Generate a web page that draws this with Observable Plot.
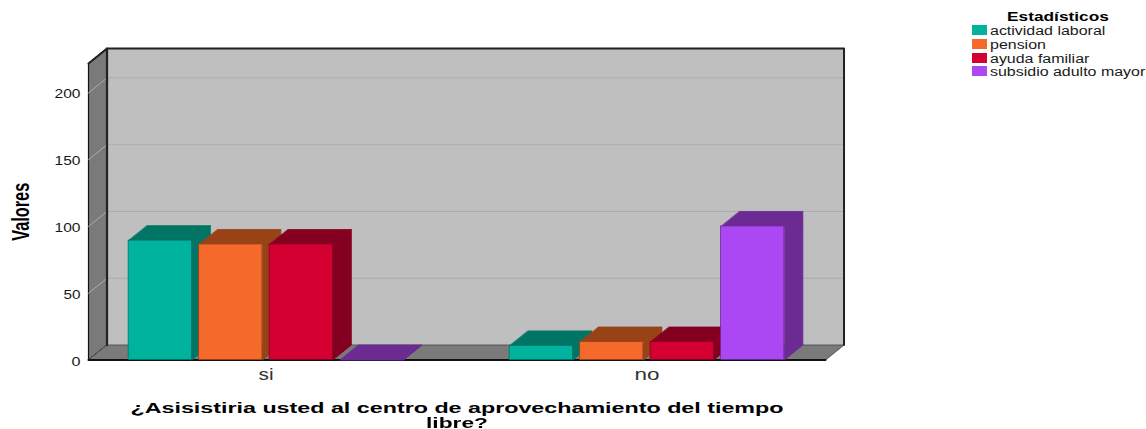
<!DOCTYPE html>
<html lang="es">
<head>
<meta charset="utf-8">
<script src="https://cdn.jsdelivr.net/npm/d3@7"></script>
<script src="https://cdn.jsdelivr.net/npm/@observablehq/plot@0.6"></script>
<style>
html,body{margin:0;padding:0;background:#fff;overflow:hidden}
#wrap{position:relative;width:1146px;height:429px;font-family:"Liberation Sans",sans-serif;filter:blur(.3px)}
#legend{position:absolute;left:972px;top:9px;width:174px;color:#1a1a1a}
#legend .t{position:absolute;left:35px;top:0;font-weight:bold;font-size:13px;color:#000;line-height:15px;white-space:nowrap;transform-origin:left center}
#legend .r{position:absolute;left:0;white-space:nowrap;font-size:12px;line-height:14px}
#legend .s{position:absolute;left:0;top:1px;width:15px;height:10px}
#legend .l{position:absolute;left:18px;top:0;transform-origin:left center}
</style>
</head>
<body>
<div id="wrap"><div id="chart"></div><div id="legend"></div></div>
<script>
const categories = ["si", "no"];
const seriesNames = ["actividad laboral", "pension", "ayuda familiar", "subsidio adulto mayor"];
const siValues = [89.4, 86.5, 86.5, 0];
const noValues = [10.6, 13.5, 13.5, 100];
const yTicks = [0, 50, 100, 150, 200];
const frontColors = ["#00b39e", "#f5692b", "#d50032", "#ab47f3"];
const sideColors = ["#007565", "#984216", "#850020", "#6c2a93"];
const yTitle = "Valores";
const xTitleLines = ["¿Asisistiria usted al centro de aprovechamiento del tiempo", "libre?"];
const legendTitle = "Estadísticos";

const groupValues = [siValues, noValues];
// layout, in scale units
const barStep = 0.185, barWidth = 0.166;
const depthX = 0.0486, depthY = 11.2;
const xMin = -0.4659, xMax = 1.4685, yMax = 222;

const poly = (pts, fill, stroke, strokeWidth) =>
  Plot.line(pts, {x: d => d[0], y: d => d[1], curve: "linear-closed", fill, stroke: stroke ?? fill, strokeWidth: strokeWidth ?? 1});
const seg = (pts, stroke, strokeWidth) =>
  Plot.line(pts, {x: d => d[0], y: d => d[1], stroke, strokeWidth});

const marks = [];
// Walls
marks.push(poly([[xMin,0],[xMin+depthX,depthY],[xMin+depthX,yMax+depthY],[xMin,yMax]], "#7a7a7a", "#111", 1.2));
marks.push(poly([[xMin+depthX,depthY],[xMax+depthX,depthY],[xMax+depthX,yMax+depthY],[xMin+depthX,yMax+depthY]], "#bfbfbf", "none"));
marks.push(poly([[xMin,0],[xMax,0],[xMax+depthX,depthY],[xMin+depthX,depthY]], "#7a7a7a", "#555", 1));
// Gridlines on the walls
for (const t of yTicks.slice(1)) {
  marks.push(seg([[xMin,t],[xMin+depthX,t+depthY],[xMax+depthX,t+depthY]], "#acacac", 1));
}
// Wall edges
marks.push(seg([[xMin,yMax],[xMin+depthX,yMax+depthY],[xMax+depthX,yMax+depthY],[xMax+depthX,depthY]], "#222", 2));
marks.push(seg([[xMin+depthX,yMax+depthY],[xMin+depthX,depthY]], "#222", 2.2));
marks.push(seg([[xMin,0],[xMax,0]], "#111", 2));

// Bars
categories.forEach((c, g) => {
  groupValues[g].forEach((v, i) => {
    const x1 = g + (i - 2) * barStep + (barStep - barWidth) / 2, x2 = x1 + barWidth;
    marks.push(poly([[x2,0],[x2+depthX,depthY],[x2+depthX,v+depthY],[x2,v]], sideColors[i], sideColors[i], 0.8));
    marks.push(poly([[x1,v],[x2,v],[x2+depthX,v+depthY],[x1+depthX,v+depthY]], sideColors[i], sideColors[i], 0.8));
    marks.push(Plot.rect([v], {x1: () => x1, x2: () => x2, y1: () => 0, y2: () => v, fill: frontColors[i], stroke: sideColors[i], strokeWidth: 0.8}));
  });
});

// Axes and titles
marks.push(Plot.axisY(yTicks, {anchor: "left", tickSize: 0, tickPadding: 8, dy: 1.5, label: null, fontSize: 12.5, fill: "#1a1a1a", fontFamily: "Liberation Sans"}));
marks.push(Plot.axisX(categories.map((c, i) => i), {anchor: "bottom", tickSize: 0, tickPadding: 8, label: null, tickFormat: i => categories[i], fontSize: 17, fill: "#333", fontFamily: "Liberation Sans"}));
marks.push(Plot.text([yTitle], {frameAnchor: "left", textAnchor: "middle", rotate: -90, dx: -67, fontSize: 23, fontWeight: "bold", fontFamily: "Liberation Sans", fill: "#000"}));
xTitleLines.forEach((line, i) => {
  marks.push(Plot.text([line], {frameAnchor: "bottom", lineAnchor: "middle", dy: 48.5 + i * 14.5, fontSize: 14.5, fontWeight: "bold", fontFamily: "Liberation Sans", fill: "#000"}));
});

const chart = Plot.plot({
  width: 1146, height: 429,
  marginLeft: 88, marginRight: 321, marginTop: 63, marginBottom: 69.5,
  style: {background: "#fff", overflow: "visible"},
  x: {type: "linear", domain: [xMin, xMax], axis: null},
  y: {type: "linear", domain: [0, yMax], axis: null},
  marks
});
document.getElementById("chart").append(chart);

// The reference's text is stretched: fit each label to its read width
const textWidths = new Map([
  ["200", 26], ["150", 26], ["100", 26], ["50", 17], ["0", 9],
  ["si", 15], ["no", 25],
  [yTitle, 58], [xTitleLines[0], 653], [xTitleLines[1], 62]
]);
chart.querySelectorAll("text").forEach(t => {
  const w = textWidths.get(t.textContent);
  if (w) {
    t.setAttribute("textLength", w);
    t.setAttribute("lengthAdjust", "spacingAndGlyphs");
  }
});

const legend = document.getElementById("legend");
const title = document.createElement("div");
title.className = "t"; title.textContent = legendTitle;
title.style.transform = "scaleX(1.33)";
legend.append(title);
seriesNames.forEach((n, i) => {
  const r = document.createElement("div");
  r.className = "r"; r.style.top = (15 + i * 13.8) + "px";
  const s = document.createElement("div"); s.className = "s"; s.style.background = frontColors[i];
  const l = document.createElement("div"); l.className = "l"; l.textContent = n;
  l.style.transform = "scaleX(1.33)";
  r.append(s, l); legend.append(r);
});
</script>
</body>
</html>
